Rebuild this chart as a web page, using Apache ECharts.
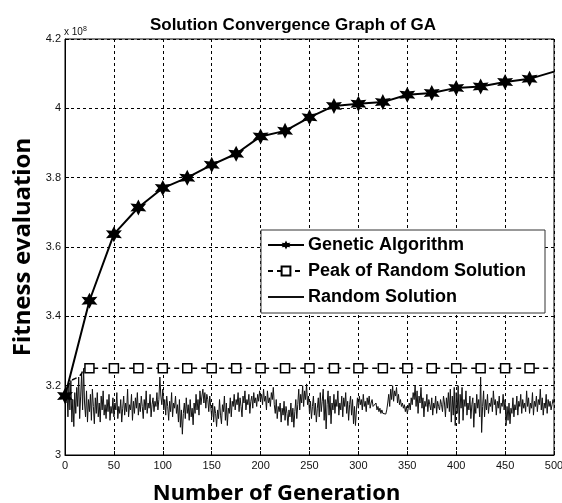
<!DOCTYPE html>
<html>
<head>
<meta charset="utf-8">
<script src="https://cdn.jsdelivr.net/npm/echarts@6/dist/echarts.min.js"></script>
<style>
  html, body { margin: 0; padding: 0; background: #fff; }
  #chart { width: 562px; height: 503px; }
</style>
</head>
<body>
<div id="chart"></div>
<script>
// x 10^8
const gaGens = [0, 25, 50, 75, 100, 125, 150, 175, 200, 225, 250, 275, 300, 325, 350, 375, 400, 425, 450, 475, 500]
const gaValues = [3.17, 3.445, 3.637, 3.714, 3.770, 3.800, 3.837, 3.869, 3.919, 3.935, 3.974, 4.007, 4.013, 4.018, 4.039, 4.044, 4.059, 4.063, 4.076, 4.085, 4.106]

const peakGens = [0, 4, 6, 14, 17, 19, 25, 50, 75, 100, 125, 150, 175, 200, 225, 250, 275, 300, 325, 350, 375, 400, 425, 450, 475, 500]
const peakValues = [3.17, 3.205, 3.215, 3.225, 3.235, 3.25, 3.25, 3.25, 3.25, 3.25, 3.25, 3.25, 3.25, 3.25, 3.25, 3.25, 3.25, 3.25, 3.25, 3.25, 3.25, 3.25, 3.25, 3.25, 3.25, 3.25]

// random solution, one value per generation 0..500
const randomValues = [
  3.170, 3.150, 3.190, 3.110, 3.205, 3.130, 3.215, 3.095, 3.160, 3.082, 3.180, 3.120, 3.195, 3.140, 3.225, 3.105, 3.170, 3.235, 3.130, 3.250, 3.150, 3.110, 3.185, 3.095, 3.160,
  3.125, 3.175, 3.100, 3.190, 3.140, 3.090, 3.165, 3.120, 3.180, 3.110, 3.150, 3.095, 3.170, 3.130, 3.185, 3.115, 3.145, 3.105, 3.160, 3.125, 3.175, 3.100, 3.140, 3.120, 3.165,
  3.110, 3.150, 3.130, 3.180, 3.105, 3.140, 3.120, 3.160, 3.095, 3.135, 3.170, 3.115, 3.150, 3.125, 3.190, 3.110, 3.145, 3.130, 3.175, 3.100, 3.155, 3.120, 3.165, 3.135, 3.180,
  3.115, 3.150, 3.125, 3.170, 3.140, 3.105, 3.160, 3.130, 3.185, 3.120, 3.150, 3.135, 3.175, 3.110, 3.145, 3.165, 3.125, 3.155, 3.140, 3.180, 3.130, 3.160, 3.225, 3.170, 3.145,
  3.190, 3.130, 3.160, 3.115, 3.170, 3.140, 3.100, 3.155, 3.125, 3.180, 3.110, 3.150, 3.135, 3.170, 3.120, 3.145, 3.095, 3.160, 3.080, 3.130, 3.060, 3.120, 3.150, 3.105, 3.165,
  3.120, 3.145, 3.100, 3.160, 3.110, 3.135, 3.087, 3.150, 3.120, 3.175, 3.130, 3.160, 3.115, 3.185, 3.145, 3.170, 3.190, 3.150, 3.180, 3.135, 3.175, 3.160, 3.125, 3.170, 3.140,
  3.110, 3.150, 3.095, 3.140, 3.120, 3.082, 3.130, 3.105, 3.160, 3.115, 3.090, 3.145, 3.125, 3.170, 3.100, 3.150, 3.085, 3.135, 3.120, 3.165, 3.110, 3.155, 3.140, 3.175, 3.130,
  3.160, 3.145, 3.180, 3.125, 3.165, 3.140, 3.110, 3.170, 3.150, 3.185, 3.130, 3.160, 3.145, 3.175, 3.120, 3.155, 3.170, 3.135, 3.180, 3.150, 3.165, 3.140, 3.175, 3.155, 3.185,
  3.160, 3.175, 3.145, 3.190, 3.155, 3.170, 3.130, 3.185, 3.150, 3.165, 3.140, 3.180, 3.160, 3.195, 3.145, 3.120, 3.160, 3.105, 3.140, 3.125, 3.150, 3.095, 3.135, 3.115, 3.155,
  3.100, 3.140, 3.120, 3.085, 3.130, 3.110, 3.150, 3.095, 3.135, 3.080, 3.125, 3.160, 3.105, 3.145, 3.190, 3.130, 3.175, 3.150, 3.200, 3.140, 3.185, 3.160, 3.205, 3.145, 3.170,
  3.120, 3.155, 3.105, 3.140, 3.170, 3.115, 3.150, 3.095, 3.135, 3.165, 3.110, 3.180, 3.125, 3.155, 3.190, 3.100, 3.160, 3.075, 3.145, 3.185, 3.115, 3.170, 3.090, 3.150, 3.130,
  3.175, 3.120, 3.160, 3.140, 3.185, 3.115, 3.150, 3.130, 3.170, 3.110, 3.165, 3.140, 3.180, 3.120, 3.155, 3.100, 3.145, 3.170, 3.115, 3.160, 3.090, 3.140, 3.085, 3.130, 3.165,
  3.135, 3.170, 3.145, 3.160, 3.130, 3.175, 3.140, 3.155, 3.125, 3.165, 3.145, 3.170, 3.135, 3.150, 3.160, 3.140, 3.145, 3.135, 3.150, 3.130, 3.140, 3.125, 3.135, 3.120, 3.130,
  3.120, 3.115, 3.125, 3.118, 3.130, 3.150, 3.175, 3.140, 3.190, 3.160, 3.200, 3.155, 3.185, 3.170, 3.195, 3.150, 3.175, 3.145, 3.160, 3.140, 3.150, 3.135, 3.145, 3.125, 3.140,
  3.120, 3.135, 3.150, 3.130, 3.165, 3.145, 3.180, 3.160, 3.200, 3.140, 3.185, 3.120, 3.170, 3.150, 3.195, 3.135, 3.165, 3.110, 3.155, 3.140, 3.175, 3.125, 3.160, 3.145, 3.130,
  3.165, 3.115, 3.150, 3.135, 3.170, 3.120, 3.155, 3.140, 3.130, 3.160, 3.145, 3.125, 3.170, 3.150, 3.110, 3.165, 3.135, 3.180, 3.125, 3.190, 3.095, 3.170, 3.115, 3.195, 3.085,
  3.180, 3.120, 3.200, 3.090, 3.175, 3.135, 3.195, 3.100, 3.160, 3.140, 3.185, 3.115, 3.150, 3.130, 3.170, 3.105, 3.145, 3.165, 3.080, 3.150, 3.120, 3.175, 3.135, 3.160, 3.110,
  3.225, 3.065, 3.140, 3.185, 3.110, 3.160, 3.130, 3.175, 3.120, 3.150, 3.140, 3.165, 3.125, 3.185, 3.145, 3.160, 3.115, 3.155, 3.135, 3.170, 3.120, 3.150, 3.140, 3.175, 3.130,
  3.160, 3.085, 3.140, 3.100, 3.150, 3.090, 3.135, 3.120, 3.165, 3.110, 3.145, 3.130, 3.170, 3.115, 3.155, 3.140, 3.175, 3.120, 3.160, 3.135, 3.150, 3.125, 3.185, 3.140, 3.165,
  3.120, 3.150, 3.135, 3.180, 3.115, 3.155, 3.140, 3.170, 3.125, 3.160, 3.145, 3.190, 3.130, 3.165, 3.115, 3.150, 3.135, 3.175, 3.120, 3.160, 3.140, 3.155, 3.130, 3.145, 3.160, 3.150
]

const xTicks = { min: 0, max: 500, interval: 50 }
const yTicks = { min: 3, max: 4.2, interval: 0.2 }

// 六角星 marker
const hexagram = 'path://M10,0L12.5,5.67L18.66,5L15,10L18.66,15L12.5,14.33L10,20L7.5,14.33L1.34,15L5,10L1.34,5L7.5,5.67Z'

const chart = echarts.init(document.getElementById('chart'), null, { renderer: 'canvas' })

const gaData = gaGens.map((g, i) => {
  const item = { value: [g, gaValues[i]] }
  if (g === 500) item.symbol = 'none'
  return item
})
const peakData = peakGens.map((g, i) => {
  const item = { value: [g, peakValues[i]] }
  if (g < 25 || g === 500) item.symbol = 'none'
  return item
})
const randomData = randomValues.map((v, i) => [i, v])

const labelFont = { color: '#111', fontFamily: 'Liberation Sans', fontSize: 11 }

chart.setOption({
  animation: false,
  backgroundColor: '#fff',
  title: {
    text: 'Solution Convergence Graph of GA',
    left: 288,
    textAlign: 'center',
    top: 12,
    textStyle: { fontFamily: 'Liberation Sans', fontWeight: 'bold', fontSize: 17, color: '#000' },
  },
  grid: {
    left: 65, right: 8, top: 39, bottom: 48,
    outerBoundsMode: 'none',
    containLabel: false,
    show: true, borderColor: '#000', borderWidth: 1, backgroundColor: 'transparent',
  },
  legend: {
    orient: 'vertical',
    left: 261,
    top: 230,
    padding: [6, 19, 7, 6],
    itemGap: 8,
    itemWidth: 36,
    itemHeight: 11,
    backgroundColor: '#fff',
    borderColor: '#333',
    borderWidth: 1,
    borderRadius: 0,
    textStyle: { fontFamily: 'Liberation Sans', fontWeight: 'bold', fontSize: 18, color: '#000', padding: [0, 0, 0, -1] },
    data: [
      'Genetic Algorithm',
      'Peak of Random Solution',
      { name: 'Random Solution', itemStyle: { opacity: 0 } },
    ],
  },
  graphic: [
    {
      type: 'text',
      left: 64,
      top: 26,
      style: {
        text: 'x 10{s|8}',
        fontFamily: 'Liberation Sans',
        fontSize: 10,
        fill: '#111',
        rich: { s: { fontSize: 7, verticalAlign: 'top', padding: [0, 0, 6, 0] } },
      },
    },
  ],
  xAxis: {
    type: 'value',
    min: xTicks.min,
    max: xTicks.max,
    interval: xTicks.interval,
    name: 'Number of Generation',
    nameLocation: 'middle',
    nameGap: 28,
    nameTextStyle: { fontFamily: 'Noto Sans', fontWeight: 'bold', fontSize: 22, color: '#000', padding: [0, 66, 0, 0] },
    axisLine: { lineStyle: { color: '#000', width: 1 } },
    axisTick: { inside: true, length: 4, lineStyle: { color: '#000' } },
    axisLabel: { ...labelFont, margin: 5 },
    splitLine: { show: true, lineStyle: { color: '#000', type: [3, 3], width: 1 } },
  },
  yAxis: {
    type: 'value',
    min: yTicks.min,
    max: yTicks.max,
    interval: yTicks.interval,
    name: 'Fitness evaluation',
    nameLocation: 'middle',
    nameGap: 30,
    nameTextStyle: { fontFamily: 'Noto Sans', fontWeight: 'bold', fontSize: 24, color: '#000' },
    axisLine: { lineStyle: { color: '#000', width: 1 } },
    axisTick: { inside: true, length: 4, lineStyle: { color: '#000' } },
    axisLabel: { ...labelFont, margin: 4, formatter: v => String(+v.toFixed(1)) },
    splitLine: { show: true, lineStyle: { color: '#000', type: [3, 3], width: 1 } },
  },
  series: [
    {
      name: 'Random Solution',
      type: 'line',
      data: randomData,
      showSymbol: false,
      symbol: 'none',
      lineStyle: { color: '#111', width: 1 },
      itemStyle: { color: '#111' },
      z: 2,
    },
    {
      name: 'Peak of Random Solution',
      type: 'line',
      data: peakData,
      symbol: 'rect',
      symbolSize: 9,
      lineStyle: { color: '#000', width: 1.5, type: [5, 4] },
      itemStyle: { color: '#fff', borderColor: '#000', borderWidth: 1.5 },
      z: 3,
    },
    {
      name: 'Genetic Algorithm',
      type: 'line',
      data: gaData,
      symbol: hexagram,
      symbolSize: 16,
      lineStyle: { color: '#000', width: 2 },
      itemStyle: { color: '#000' },
      z: 4,
    },
  ],
})
</script>
</body>
</html>
